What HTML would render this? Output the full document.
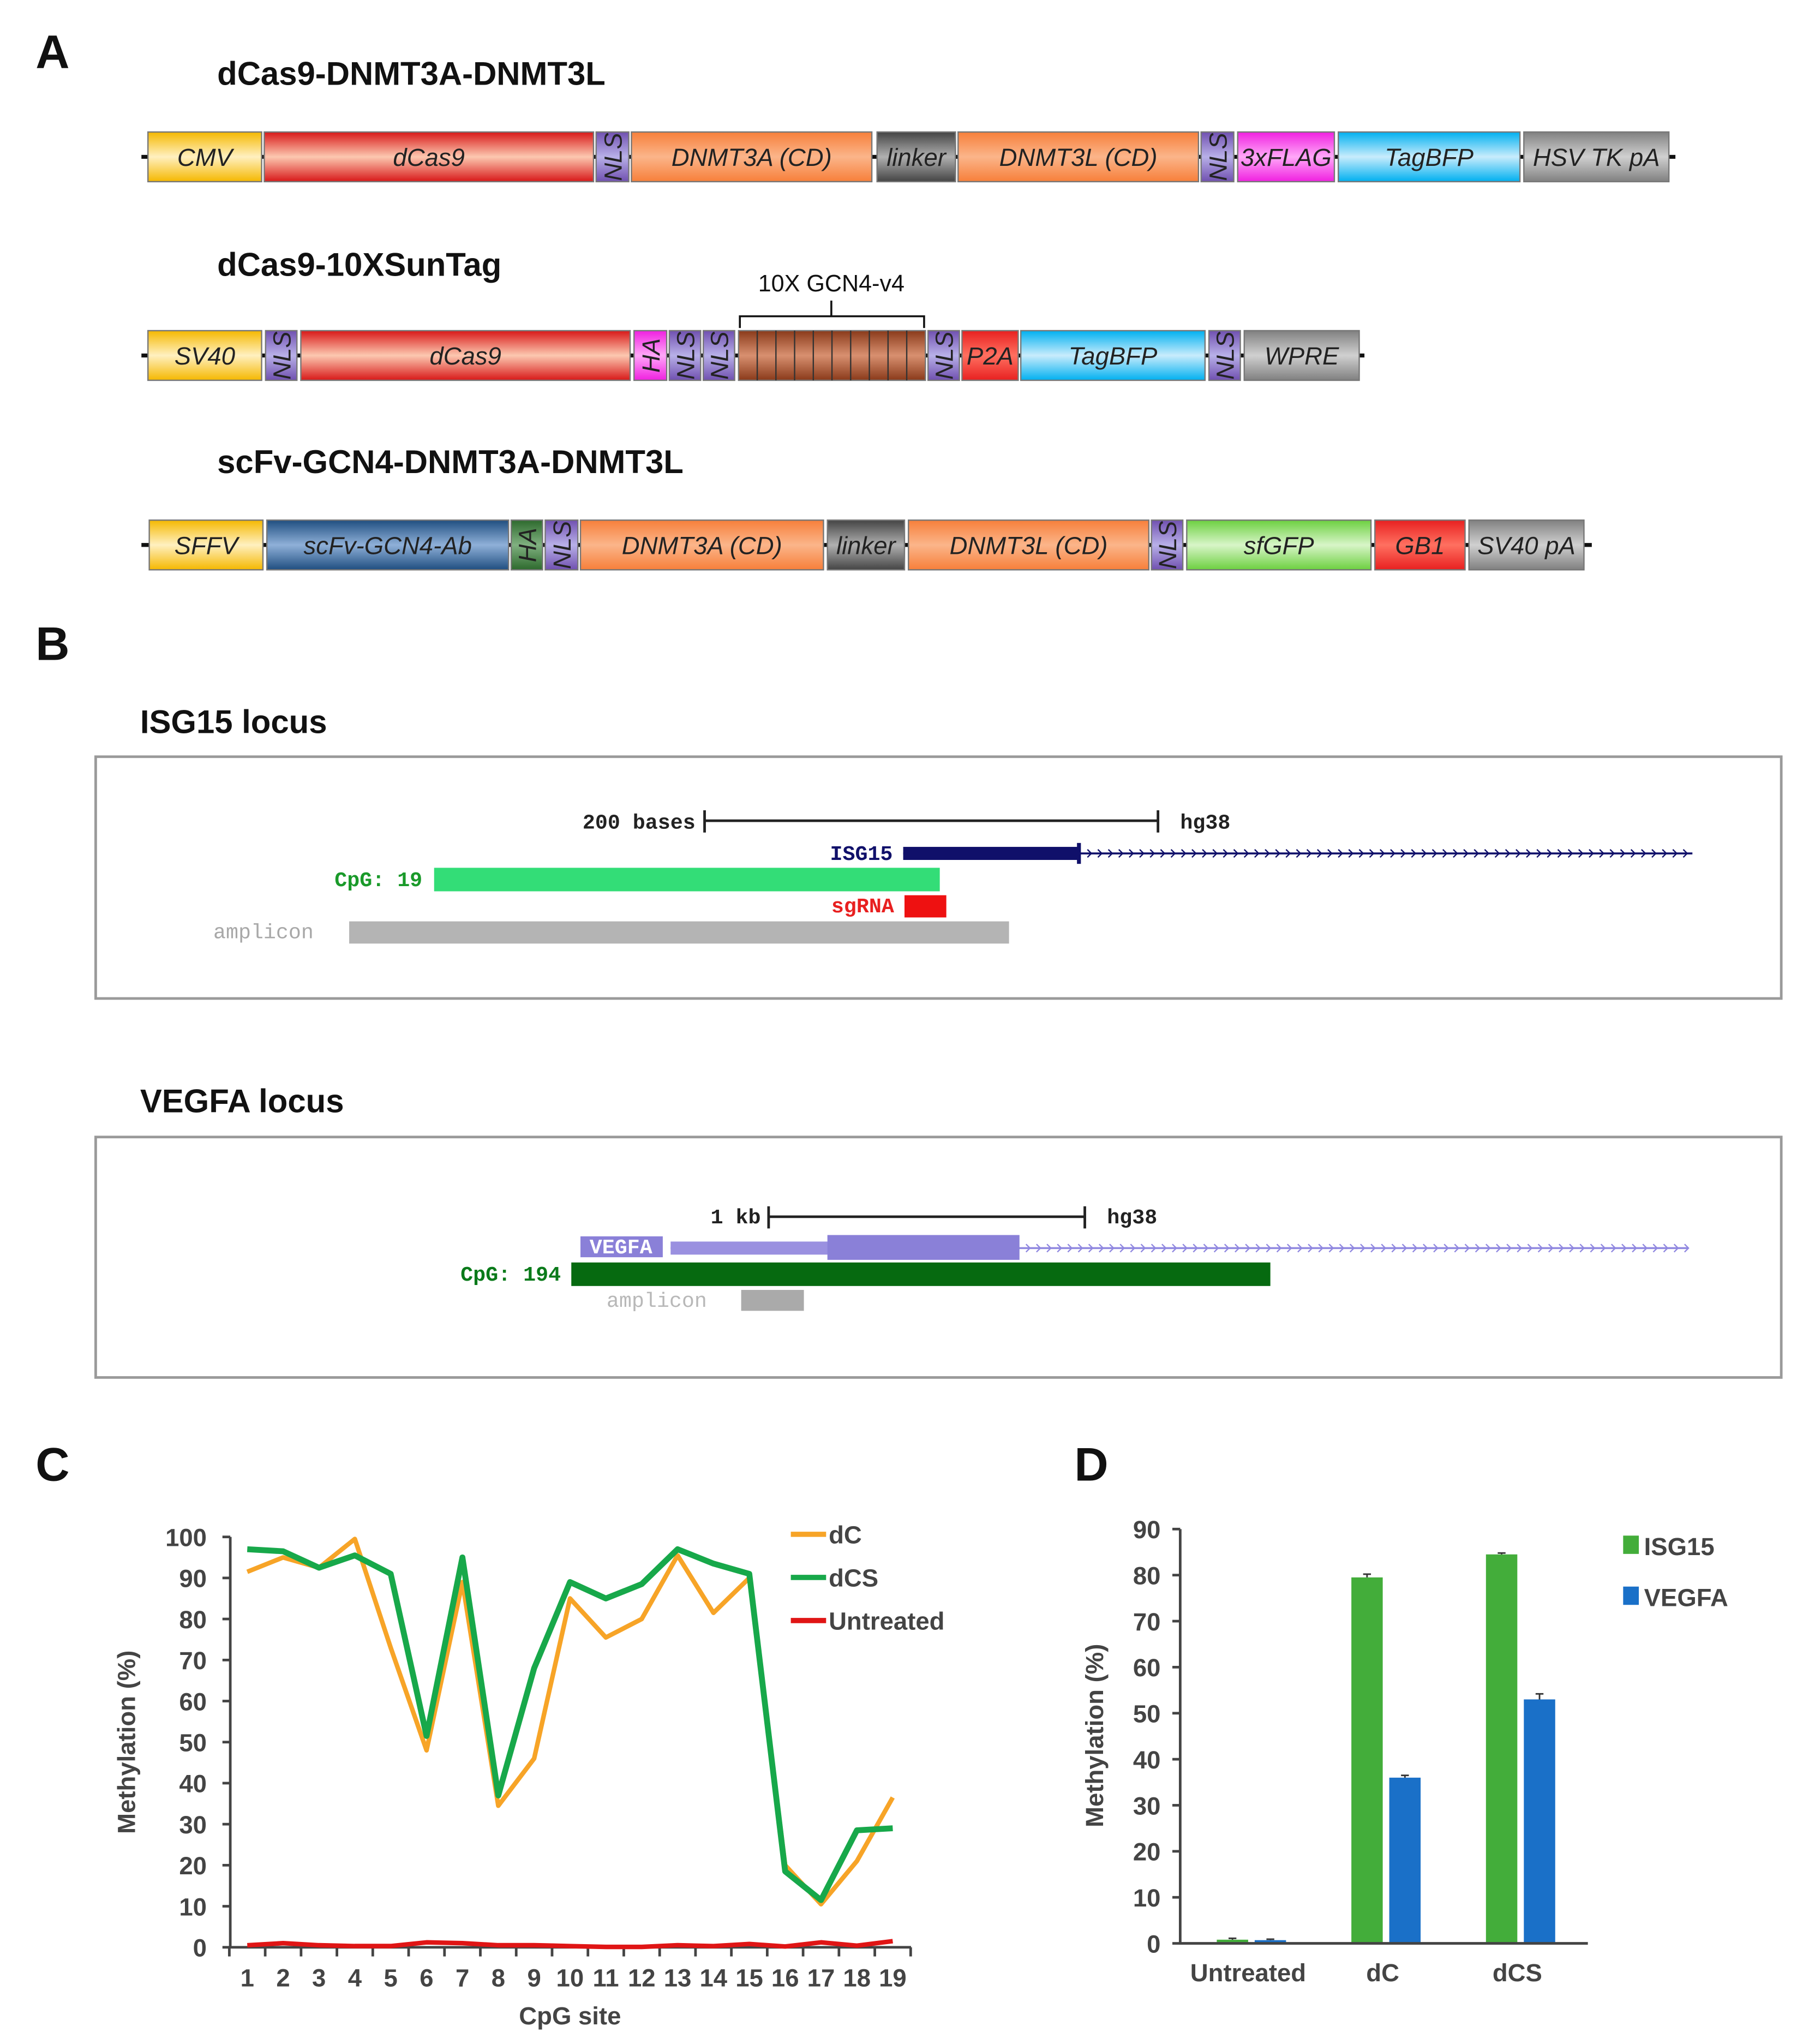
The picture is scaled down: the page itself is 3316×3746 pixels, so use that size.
<!DOCTYPE html>
<html><head><meta charset="utf-8"><style>
html,body{margin:0;padding:0;background:#fff;}
svg{display:block;}
.seg{font-family:"Liberation Sans Narrow","Liberation Sans",sans-serif;font-style:italic;font-size:19px;fill:#222;text-anchor:middle;}
.ttl{font-family:"Liberation Sans",sans-serif;font-weight:bold;font-size:25px;fill:#111;}
.pl{font-family:"Liberation Sans",sans-serif;font-weight:bold;font-size:36px;fill:#111;}
.mono{font-family:"Liberation Mono","DejaVu Sans Mono",monospace;font-weight:bold;font-size:16px;}
.tk{font-family:"Liberation Sans",sans-serif;font-weight:bold;font-size:19px;fill:#444;}
</style></head><body>
<svg id="fig" width="3316" height="3746" viewBox="0 0 1384 1564" xmlns="http://www.w3.org/2000/svg">
<defs>
<linearGradient id="gY" x1="0" y1="0" x2="0" y2="1"><stop offset="0" stop-color="#f5b800"/><stop offset=".5" stop-color="#fff0c0"/><stop offset="1" stop-color="#f5b800"/></linearGradient>
<linearGradient id="gR" x1="0" y1="0" x2="0" y2="1"><stop offset="0" stop-color="#d81818"/><stop offset=".5" stop-color="#fcc8b0"/><stop offset="1" stop-color="#d81818"/></linearGradient>
<linearGradient id="gP" x1="0" y1="0" x2="0" y2="1"><stop offset="0" stop-color="#7050b0"/><stop offset=".5" stop-color="#b8b0e8"/><stop offset="1" stop-color="#7050b0"/></linearGradient>
<linearGradient id="gO" x1="0" y1="0" x2="0" y2="1"><stop offset="0" stop-color="#f77f3a"/><stop offset=".5" stop-color="#fbb58a"/><stop offset="1" stop-color="#f77f3a"/></linearGradient>
<linearGradient id="gK" x1="0" y1="0" x2="0" y2="1"><stop offset="0" stop-color="#444"/><stop offset=".5" stop-color="#b0b0b0"/><stop offset="1" stop-color="#444"/></linearGradient>
<linearGradient id="gM" x1="0" y1="0" x2="0" y2="1"><stop offset="0" stop-color="#f020e0"/><stop offset=".5" stop-color="#ffa8f8"/><stop offset="1" stop-color="#f020e0"/></linearGradient>
<linearGradient id="gC" x1="0" y1="0" x2="0" y2="1"><stop offset="0" stop-color="#00b0f0"/><stop offset=".5" stop-color="#c8ecfc"/><stop offset="1" stop-color="#00b0f0"/></linearGradient>
<linearGradient id="gG" x1="0" y1="0" x2="0" y2="1"><stop offset="0" stop-color="#808080"/><stop offset=".5" stop-color="#d0d0d0"/><stop offset="1" stop-color="#808080"/></linearGradient>
<linearGradient id="gB" x1="0" y1="0" x2="0" y2="1"><stop offset="0" stop-color="#1f4e80"/><stop offset=".5" stop-color="#8fb0d8"/><stop offset="1" stop-color="#1f4e80"/></linearGradient>
<linearGradient id="gD" x1="0" y1="0" x2="0" y2="1"><stop offset="0" stop-color="#2d6a2d"/><stop offset=".5" stop-color="#80b080"/><stop offset="1" stop-color="#2d6a2d"/></linearGradient>
<linearGradient id="gL" x1="0" y1="0" x2="0" y2="1"><stop offset="0" stop-color="#6cd040"/><stop offset=".5" stop-color="#d8f5c8"/><stop offset="1" stop-color="#6cd040"/></linearGradient>
<linearGradient id="gN" x1="0" y1="0" x2="0" y2="1"><stop offset="0" stop-color="#8a3a1a"/><stop offset=".5" stop-color="#d89070"/><stop offset="1" stop-color="#8a3a1a"/></linearGradient>
<linearGradient id="gR2" x1="0" y1="0" x2="0" y2="1"><stop offset="0" stop-color="#e82020"/><stop offset=".5" stop-color="#ff7060"/><stop offset="1" stop-color="#e82020"/></linearGradient>
</defs>
<g id="panelA"></g>
<g id="panelB">
<text class="pl" x="27" y="505">B</text>
<text class="ttl" x="107" y="561">ISG15 locus</text>
<rect x="73" y="579" width="1290" height="185" fill="#fff" stroke="#9a9a9a" stroke-width="2"/>
<text class="mono" x="532" y="634" text-anchor="end" fill="#222">200 bases</text>
<path d="M539 620V637M539 628H886M886 620V637" stroke="#222" stroke-width="2" fill="none"/>
<text class="mono" x="903" y="634" fill="#222">hg38</text>
<text class="mono" x="683" y="658" text-anchor="end" fill="#10106a">ISG15</text>
<line x1="691" y1="653" x2="1295" y2="653" stroke="#10106a" stroke-width="1.5"/>
<g id="isgArrows"></g>
<rect x="691" y="648" width="135" height="10" fill="#10106a"/>
<rect x="824" y="645" width="3" height="16" fill="#10106a"/>
<text class="mono" x="323" y="678" text-anchor="end" fill="#1a9a2a">CpG: 19</text>
<rect x="332" y="664" width="387" height="18" fill="#33dd77"/>
<text class="mono" x="684" y="698" text-anchor="end" fill="#e82020">sgRNA</text>
<rect x="692" y="685" width="32" height="17" fill="#ee1111"/>
<text class="mono" x="163" y="718" fill="#a8a8a8" style="font-weight:normal">amplicon</text>
<rect x="267" y="705" width="505" height="17" fill="#b4b4b4"/>

<text class="ttl" x="107" y="851">VEGFA locus</text>
<rect x="73" y="870" width="1290" height="184" fill="#fff" stroke="#9a9a9a" stroke-width="2"/>
<text class="mono" x="582" y="936" text-anchor="end" fill="#222">1 kb</text>
<path d="M588 923V940M588 931H830M830 923V940" stroke="#222" stroke-width="2" fill="none"/>
<text class="mono" x="847" y="936" fill="#222">hg38</text>
<rect x="444" y="946" width="63" height="16" fill="#8a80d8"/>
<text class="mono" x="475" y="959" text-anchor="middle" fill="#fff">VEGFA</text>
<line x1="513" y1="955" x2="1292" y2="955" stroke="#9088e0" stroke-width="1.5"/>
<g id="vegArrows"></g>
<rect x="513" y="950" width="121" height="10" fill="#9a90e0"/>
<rect x="633" y="945" width="147" height="19" fill="#8a80d8"/>
<text class="mono" x="429" y="980" text-anchor="end" fill="#0a7a1a">CpG: 194</text>
<rect x="437" y="966" width="535" height="18" fill="#066a10"/>
<text class="mono" x="464" y="1000" fill="#b8b8b8" style="font-weight:normal">amplicon</text>
<rect x="567" y="987" width="48" height="16" fill="#aaaaaa"/>
</g>
<g id="panelC"></g>
<g id="panelD"></g>
</svg>
<script>
// ---------- Panel C data ----------
const cpgSites = [1,2,3,4,5,6,7,8,9,10,11,12,13,14,15,16,17,18,19];
const dcValues = [91.5,95,92.5,99.5,73,48,89,34.5,46,85,75.5,80,95.5,81.5,90,20,10.5,21,36.5];
const dcsValues = [97,96.5,92.5,95.5,91,51.5,95,37,68,89,85,88.5,97,93.5,91,18.5,11.5,28.5,29];
const untreatedValues = [0.5,1,0.5,0.3,0.3,1.2,1,0.5,0.5,0.3,0.1,0.1,0.5,0.3,0.8,0.2,1.2,0.4,1.5];
const cYTicks = [0,10,20,30,40,50,60,70,80,90,100];
// ---------- Panel D data ----------
const dGroups = ["Untreated","dC","dCS"];
const isg15Values = [0.8,79.5,84.5];
const isg15Err = [0.3,0.7,0.3];
const vegfaValues = [0.7,36,53];
const vegfaErr = [0.2,0.5,1.2];
const dYTicks = [0,10,20,30,40,50,60,70,80,90];

const NS="http://www.w3.org/2000/svg";
function mk(parent,tag,attrs,text){const e=document.createElementNS(NS,tag);for(const k in attrs)e.setAttribute(k,attrs[k]);if(text!==undefined)e.textContent=text;parent.appendChild(e);return e;}

// ---------- Panel A ----------
const A=document.getElementById('panelA');
let t=mk(A,'text',{class:'pl',x:27,y:52},'A');


const rows=[
 {title:'dCas9-DNMT3A-DNMT3L',ty:65,y:101,x0:108,x1:1282,segs:[[113,200,'gY','CMV'],[202,454,'gR','dCas9'],[456,481,'gP','NLS',1],[483,667,'gO','DNMT3A (CD)'],[671,731,'gK','linker'],[733,917,'gO','DNMT3L (CD)'],[919,944,'gP','NLS',1],[947,1021,'gM','3xFLAG'],[1024,1163,'gC','TagBFP'],[1166,1277,'gG','HSV TK pA']]},
 {title:'dCas9-10XSunTag',ty:211,y:253,x0:108,x1:1044,segs:[[113,200,'gY','SV40'],[203,227,'gP','NLS',1],[230,482,'gR','dCas9'],[485,510,'gM','HA',1],[512,536,'gP','NLS',1],[538,562,'gP','NLS',1],[565,708,'gN',''],[710,734,'gP','NLS',1],[736,779,'gR2','P2A'],[781,922,'gC','TagBFP'],[925,949,'gP','NLS',1],[952,1040,'gG','WPRE']]},
 {title:'scFv-GCN4-DNMT3A-DNMT3L',ty:362,y:398,x0:108,x1:1218,segs:[[114,201,'gY','SFFV'],[204,389,'gB','scFv-GCN4-Ab'],[391,415,'gD','HA',1],[417,442,'gP','NLS',1],[444,630,'gO','DNMT3A (CD)'],[633,692,'gK','linker'],[695,879,'gO','DNMT3L (CD)'],[881,905,'gP','NLS',1],[908,1049,'gL','sfGFP'],[1052,1121,'gR2','GB1'],[1124,1212,'gG','SV40 pA']]}
];
rows.forEach((r,ri)=>{
  const g=mk(A,'g',{});
  
  
  const tt=mk(g,'text',{class:'ttl',x:166,y:r.ty},r.title);
  
  
  const ln=mk(g,'line',{x1:r.x0,x2:r.x1,y1:r.y+19,y2:r.y+19,stroke:'#111','stroke-width':3});
  
  
  r.segs.forEach(s=>{
    const rc=mk(g,'rect',{x:s[0],y:r.y,width:s[1]-s[0],height:38,fill:'url(#'+s[2]+')',stroke:'#777','stroke-width':1});
    
    
    if(s[3]){
      const cx=(s[0]+s[1])/2, cy=r.y+19;
      const tx=mk(g,'text',{class:'seg',x:cx,y:cy+7},s[3]);
      if(s[4]) tx.setAttribute('transform','rotate(-90 '+cx+' '+cy+')');
      
      
    }
  });
  if(ri===1){
    for(let k=1;k<10;k++){
      const x=565+k*(143/10);
      const l=mk(g,'line',{x1:x,x2:x,y1:r.y,y2:r.y+38,stroke:'#333','stroke-width':1});
      
      
    }
    const br=mk(g,'path',{d:'M566 251V242H707V251M636 242V230',stroke:'#111','stroke-width':1.5,fill:'none'});
    
    
    const bl=mk(g,'text',{x:636,y:223,'text-anchor':'middle','font-family':'"Liberation Sans Narrow","Liberation Sans",sans-serif','font-size':18,fill:'#111'},'10X GCN4-v4');
    
    
  }
});

// strand arrows panel B
function arrows(id,x0,x1,y,col){
  const g=document.getElementById(id);let d='';
  for(let x=x0;x<x1;x+=8){d+='M'+x+' '+(y-3)+'L'+(x+3)+' '+y+'L'+x+' '+(y+3);}
  const p=mk(g,'path',{d:d,stroke:col,'stroke-width':1,fill:'none'});
  
  
}
arrows('isgArrows',832,1292,653,'#10106a');
arrows('vegArrows',785,1290,955,'#9088e0');

// ---------- Panel C ----------
const C=document.getElementById('panelC');
t=mk(C,'text',{class:'pl',x:27,y:1133},'C');


const cx0=189, cdx=(683-189)/18, cy0=1490, cy100=1176;
const cX=i=>cx0+i*cdx;
const cY=v=>cy0+(cy100-cy0)*v/100;
let ax=mk(C,'path',{d:'M176 '+cY(100)+'V'+cy0+'H697',stroke:'#444','stroke-width':2,fill:'none'});


cYTicks.forEach(v=>{
  const l=mk(C,'line',{x1:170,x2:176,y1:cY(v),y2:cY(v),stroke:'#444','stroke-width':2});
  
  
  const tx=mk(C,'text',{class:'tk',x:158,y:cY(v)+7,'text-anchor':'end'},String(v));
  
  
});
for(let i=0;i<=cpgSites.length;i++){
  const x=cX(i)-cdx/2;
  const l=mk(C,'line',{x1:x,x2:x,y1:cy0,y2:cy0+7,stroke:'#444','stroke-width':2});
  
  
}
cpgSites.forEach((s,i)=>{
  const tx=mk(C,'text',{class:'tk',x:cX(i),y:1520,'text-anchor':'middle','font-size':17},String(s));
  
  
});
t=mk(C,'text',{class:'tk',x:436,y:1549,'text-anchor':'middle','font-size':20},'CpG site');


t=mk(C,'text',{class:'tk',x:0,y:0,'text-anchor':'middle','font-size':20,transform:'translate(103 1333) rotate(-90)'},'Methylation (%)');


function series(vals,col,w,name){
  const p=mk(C,'polyline',{points:vals.map((v,i)=>cX(i)+','+cY(v)).join(' '),fill:'none',stroke:col,'stroke-width':w,'stroke-linejoin':'round'});
  
  
}
series(untreatedValues,'#e01515',3.5,'untreated-line');
series(dcValues,'#f7a427',3.5,'dc-line');
series(dcsValues,'#17a84a',4.5,'dcs-line');
[['dC','#f7a427',1174],['dCS','#17a84a',1207],['Untreated','#e01515',1240]].forEach(L=>{
  const l=mk(C,'line',{x1:605,x2:632,y1:L[2],y2:L[2],stroke:L[1],'stroke-width':4});
  
  
  const tx=mk(C,'text',{class:'tk',x:634,y:L[2]+7,'font-size':20},L[0]);
  
  
});

// ---------- Panel D ----------
const D=document.getElementById('panelD');
t=mk(D,'text',{class:'pl',x:822,y:1133},'D');


const dy0=1487, dy90=1170;
const dY=v=>dy0+(dy90-dy0)*v/90;
const dX=i=>1061+(i-1)*103;
dYTicks.forEach(v=>{
  const l=mk(D,'line',{x1:897,x2:903,y1:dY(v),y2:dY(v),stroke:'#444','stroke-width':2});
  
  
  const tx=mk(D,'text',{class:'tk',x:888,y:dY(v)+7,'text-anchor':'end'},String(v));
  
  
});
t=mk(D,'text',{class:'tk',x:0,y:0,'text-anchor':'middle','font-size':20,transform:'translate(844 1328) rotate(-90)'},'Methylation (%)');


function bar(x,v,e,col,name){
  const r=mk(D,'rect',{x:x,y:dY(v),width:24,height:dy0-dY(v),fill:col});
  
  
  const eb=mk(D,'path',{d:'M'+(x+12)+' '+dY(v)+'V'+dY(v+e)+'M'+(x+9)+' '+dY(v+e)+'H'+(x+15),stroke:'#333','stroke-width':1.2});
  
  
}
dGroups.forEach((g,i)=>{
  bar(dX(i)-27,isg15Values[i],isg15Err[i],'#43ad3a','bar-isg15-'+g.toLowerCase());
  bar(dX(i)+2,vegfaValues[i],vegfaErr[i],'#1a70c8','bar-vegfa-'+g.toLowerCase());
  const tx=mk(D,'text',{class:'tk',x:dX(i)-3,y:1516,'text-anchor':'middle','font-size':19},g);
  
  
});
ax=mk(D,'path',{d:'M903 '+dY(90)+'V'+dy0+'H1215',stroke:'#444','stroke-width':2,fill:'none'});


[['ISG15','#43ad3a',1183],['VEGFA','#1a70c8',1222]].forEach(L=>{
  const r=mk(D,'rect',{x:1242,y:L[2]-8,width:12,height:14,fill:L[1]});
  
  
  const tx=mk(D,'text',{class:'tk',x:1258,y:L[2]+7,'font-size':20},L[0]);
  
  
});
</script>
</body></html>
